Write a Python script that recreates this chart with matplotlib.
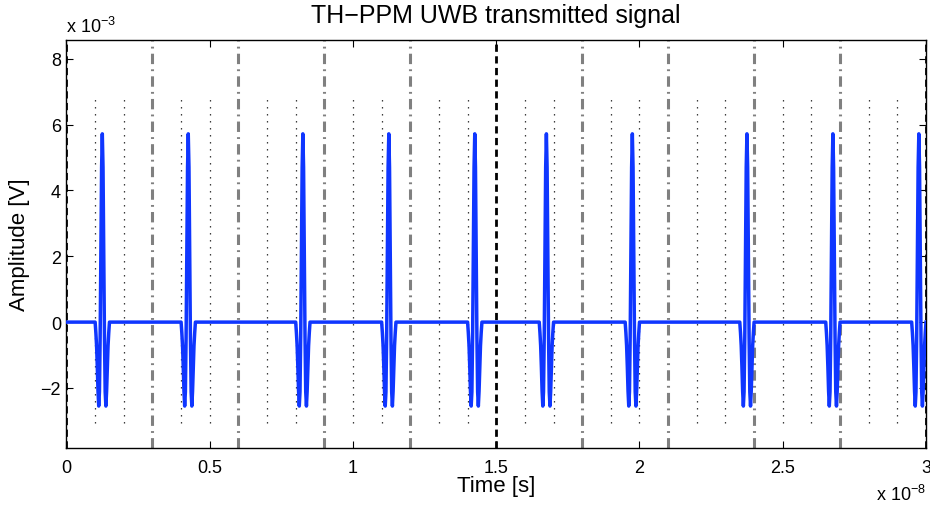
import numpy as np
import matplotlib
matplotlib.use("Agg")
import matplotlib.pyplot as plt
from matplotlib.ticker import FixedLocator, FuncFormatter

plt.rcParams["font.family"] = ["Liberation Sans", "DejaVu Sans"]
plt.rcParams["mathtext.fontset"] = "custom"
plt.rcParams["mathtext.rm"] = "Liberation Sans"
plt.rcParams["mathtext.it"] = "Liberation Sans"

# pulse centres [ns] (TH code + PPM shift)
pulse_centers = [1.25, 4.25, 8.25, 11.25, 14.25, 16.75, 19.75, 23.75, 26.75, 29.75]
# pulse samples [mV] at 0.025 ns steps, -0.25 .. +0.25 ns around the centre
pulse_offsets = [-0.25, -0.225, -0.2, -0.175, -0.15, -0.125, -0.1, -0.075, -0.05, -0.025, 0.0,
                 0.025, 0.05, 0.075, 0.1, 0.125, 0.15, 0.175, 0.2, 0.225, 0.25]
pulse_values = [0.0, -0.32, -0.72, -1.36, -2.10, -2.55, -2.12, -0.43, 2.21, 4.70, 5.72,
                4.70, 2.21, -0.43, -2.12, -2.55, -2.10, -1.36, -0.72, -0.32, 0.0]
t_end = 30.0  # ns

frame_edges = [3, 6, 9, 12, 18, 21, 24, 27]     # ns, grey dash-dot
bit_edges = [0, 15, 30]                          # ns, black dashed
chip_edges = [k for k in range(1, 30) if k % 3]  # ns, dotted

xticks = [0, 0.5, 1, 1.5, 2, 2.5, 3]
yticks = [-2, 0, 2, 4, 6, 8]

# build the waveform
t = [0.0]
y = [0.0]
for c in pulse_centers:
    for o, v in zip(pulse_offsets, pulse_values):
        t.append(c + o)
        y.append(v)
if t[-1] < t_end:
    t.append(t_end)
    y.append(0.0)
t = np.array(t) / 10.0  # units of 1e-8 s
y = np.array(y)         # units of 1e-3 V

ymax = max(pulse_values)
ymin = min(pulse_values)

fig = plt.figure(figsize=(9.3, 5.06), dpi=100)
ax = fig.add_axes([0.0715, 0.1126, 0.9242, 0.807])

for c in chip_edges:
    ax.plot([c / 10.0, c / 10.0], [1.2 * ymin, 1.2 * ymax], color="#222222",
            lw=0.9, linestyle=(0, (1.1, 4.5)), zorder=1)
for f in frame_edges:
    ax.axvline(f / 10.0, color="#808080", lw=2.2, linestyle=(0, (3.4, 1.7, 0.6, 1.7)), zorder=1)
for b in bit_edges:
    ax.axvline(b / 10.0, color="black", lw=2.0, linestyle=(0, (2.6, 1.6)), zorder=1)

ax.plot(t, y, color="#0f36ff", lw=2.5, zorder=3)

ax.set_xlim(0, 3)
ax.set_ylim(1.5 * ymin, 1.5 * ymax)
ax.xaxis.set_major_locator(FixedLocator(xticks))
ax.yaxis.set_major_locator(FixedLocator(yticks))
fmt = FuncFormatter(lambda v, p: ("%g" % v).replace("-", "\u2212"))
ax.xaxis.set_major_formatter(fmt)
ax.yaxis.set_major_formatter(fmt)
ax.tick_params(direction="in", length=5, width=0.8, labelsize=13,
               top=True, right=True)
ax.tick_params(axis="x", pad=8)
ax.tick_params(axis="y", pad=4)
for s in ax.spines.values():
    s.set_linewidth(1.0)

ax.set_title("TH\u2212PPM UWB transmitted signal", fontsize=18, pad=12.5)
ax.set_xlabel("Time [s]", fontsize=16)
ax.xaxis.set_label_coords(0.5, -0.066)
ax.set_ylabel("Amplitude [V]", fontsize=16)
ax.yaxis.set_label_coords(-0.042, 0.5)

fig.text(66 / 930, 1 - 33 / 506, r"x 10$^{-3}$", fontsize=13, ha="left", va="baseline")
fig.text(926 / 930, 1 - 501 / 506, r"x 10$^{-8}$", fontsize=13, ha="right", va="baseline")

fig.savefig("out.png", dpi=100)
plt.close(fig)
